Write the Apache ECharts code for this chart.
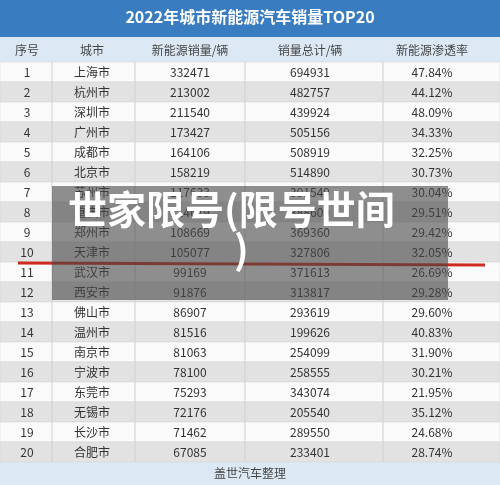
<!DOCTYPE html>
<html><head><meta charset="utf-8">
<script src="https://cdn.jsdelivr.net/npm/echarts@6/dist/echarts.min.js"></script>
<style>html,body{margin:0;padding:0;background:#fff}#c{width:500px;height:485px}</style>
</head><body><div id="c"></div>
<script>
// données du tableau
const ranks = [1,2,3,4,5,6,7,8,9,10,11,12,13,14,15,16,17,18,19,20];
const cities = ['上海市','杭州市','深圳市','广州市','成都市','北京市','苏州市','重庆市','郑州市','天津市','武汉市','西安市','佛山市','温州市','南京市','宁波市','东莞市','无锡市','长沙市','合肥市'];
const nevSales = [332471,213002,211540,173427,164106,158219,117633,114679,108669,105077,99169,91876,86907,81516,81063,78100,75293,72176,71462,67085];
const totalSales = [694931,482757,439924,505156,508919,514890,391549,388609,369360,327806,371613,313817,293619,199626,254099,258555,343074,205540,289550,233401];
const rates = ['47.84%','44.12%','48.09%','34.33%','32.25%','30.73%','30.04%','29.51%','29.42%','32.05%','26.69%','29.28%','29.60%','40.83%','31.90%','30.21%','21.95%','35.12%','24.68%','28.74%'];
const headers = ['序号','城市','新能源销量/辆','销量总计/辆','新能源渗透率'];

// colonnes : centre x et séparateurs
const colX = [27, 92, 190, 310, 432];
const sepX = [52, 135, 245, 383];

const chart = echarts.init(document.getElementById('c'));
const font = '"Noto Sans CJK SC", sans-serif';

chart.setOption({
  animation: false,
  grid: {left: 0, right: 0, top: 62, bottom: 23},
  xAxis: {type: 'value', min: 0, max: 500, show: false},
  yAxis: {type: 'category', inverse: true, data: ranks.map(String), show: false},
  series: [{
    type: 'custom',
    data: ranks.map((r, i) => [0, i]),
    renderItem: function (params, api) {
      const i = api.value(1);
      const y = api.coord([0, i])[1];
      const h = api.size([0, 1])[1];
      const top = y - h / 2;
      const cells = [String(ranks[i]), cities[i], String(nevSales[i]), String(totalSales[i]), rates[i]];
      const children = [{
        type: 'rect', shape: {x: 0, y: top, width: 500, height: h},
        style: {fill: i % 2 ? '#e2e2e2' : '#fafafa', stroke: '#d0d0d0', lineWidth: 0.5}
      }];
      sepX.forEach(x => children.push({type: 'line', shape: {x1: x, y1: top, x2: x, y2: top + h}, style: {stroke: '#cfcfcf', lineWidth: 1}}));
      cells.forEach((t, k) => children.push({
        type: 'text', x: colX[k], y: y,
        style: {text: t, fill: '#333', font: '12px ' + font, align: 'center', verticalAlign: 'middle'}
      }));
      return {type: 'group', children: children};
    }
  }],
  graphic: [
    {type: 'rect', left: 0, top: 0, shape: {width: 500, height: 37}, style: {fill: '#3a7cc0'}},
    {type: 'text', left: 'center', top: 9, style: {text: '2022年城市新能源汽车销量TOP20', fill: '#fff', font: 'bold 16px ' + font}},
    {type: 'rect', left: 0, top: 37, shape: {width: 500, height: 25}, style: {fill: '#dce9f5'}},
    ...headers.map((t, k) => ({type: 'text', x: colX[k], y: 50, style: {text: t, fill: '#444', font: '12px ' + font, align: 'center', verticalAlign: 'middle'}})),
    {type: 'rect', left: 0, top: 462, shape: {width: 500, height: 23}, style: {fill: '#dce9f5'}},
    {type: 'text', x: 250, y: 473, style: {text: '盖世汽车整理', fill: '#444', font: '12px ' + font, align: 'center', verticalAlign: 'middle'}},
    {type: 'line', shape: {x1: 18, y1: 263, x2: 485, y2: 265}, style: {stroke: '#cc2a1c', lineWidth: 3}, z: 20},
    {type: 'rect', left: 52, top: 186, shape: {width: 396, height: 114}, style: {fill: 'rgba(70,70,70,0.6)'}, z: 30},
    {type: 'text', left: 68, top: 190, style: {text: '世家限号(限号世间', fill: '#fff', font: 'bold 39px ' + font}, z: 31},
    {type: 'text', left: 234, top: 230, style: {text: ')', fill: '#fff', font: 'bold 39px ' + font}, z: 31}
  ]
});
</script></body></html>
